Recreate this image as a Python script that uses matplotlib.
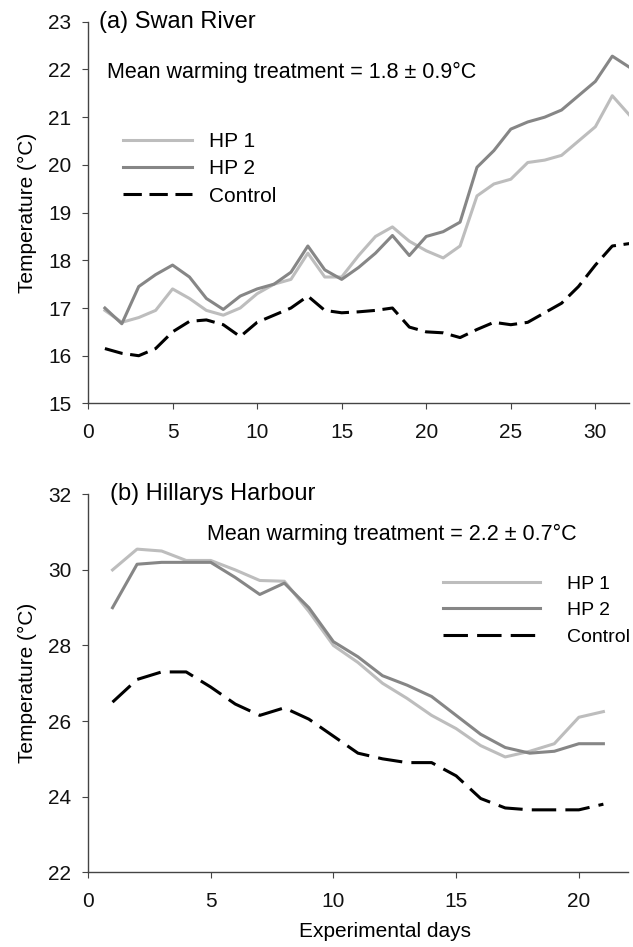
import matplotlib
matplotlib.use("Agg")
import matplotlib.pyplot as plt

plt.rcParams['font.family'] = ['Liberation Sans', 'DejaVu Sans']

# (a) Swan River, days 1-32
swan_days = list(range(1, 33))
swan_hp1 = [16.95, 16.7, 16.8, 16.95, 17.4, 17.2, 16.95, 16.85, 17.0, 17.3,
            17.5, 17.6, 18.15, 17.65, 17.65, 18.1, 18.5, 18.7, 18.4, 18.2,
            18.05, 18.3, 19.35, 19.6, 19.7, 20.05, 20.1, 20.2, 20.5, 20.8,
            21.45, 21.05]
swan_hp2 = [17.0, 16.67, 17.45, 17.7, 17.9, 17.65, 17.2, 16.97, 17.25, 17.4,
            17.5, 17.75, 18.3, 17.8, 17.6, 17.85, 18.15, 18.52, 18.1, 18.5,
            18.6, 18.8, 19.95, 20.3, 20.75, 20.9, 21.0, 21.15, 21.45, 21.75,
            22.28, 22.05]
swan_ctrl = [16.15, 16.05, 16.0, 16.15, 16.5, 16.72, 16.75, 16.65, 16.4, 16.7,
             16.85, 17.0, 17.25, 16.95, 16.9, 16.92, 16.95, 17.0, 16.6, 16.5,
             16.48, 16.38, 16.55, 16.7, 16.65, 16.7, 16.9, 17.1, 17.45, 17.9,
             18.3, 18.35]

# (b) Hillarys Harbour, days 1-21
hill_days = list(range(1, 22))
hill_hp1 = [30.0, 30.55, 30.5, 30.25, 30.25, 30.0, 29.72, 29.7, 28.9, 28.0,
            27.55, 27.0, 26.6, 26.15, 25.8, 25.35, 25.05, 25.2, 25.4, 26.1,
            26.25]
hill_hp2 = [29.0, 30.15, 30.2, 30.2, 30.2, 29.8, 29.35, 29.65, 29.0, 28.1,
            27.7, 27.2, 26.95, 26.65, 26.15, 25.65, 25.3, 25.15, 25.2, 25.4,
            25.4]
hill_ctrl = [26.5, 27.1, 27.3, 27.3, 26.9, 26.45, 26.15, 26.35, 26.05, 25.6,
             25.15, 25.0, 24.9, 24.9, 24.55, 23.95, 23.7, 23.65, 23.65, 23.65,
             23.8]

HP1_COL = '#bdbdbd'
HP2_COL = '#868686'
AX_COL = '#444444'
FS = 15
LW = 2.2

fig = plt.figure(figsize=(6.33, 9.47), dpi=100)
ax1 = fig.add_axes([0.139, 0.574, 0.855, 0.403])
ax2 = fig.add_axes([0.139, 0.079, 0.853, 0.399])


def style(ax):
    for s in ['top', 'right']:
        ax.spines[s].set_visible(False)
    for s in ['left', 'bottom']:
        ax.spines[s].set_color(AX_COL)
        ax.spines[s].set_linewidth(1.0)
    ax.tick_params(direction='out', length=4, color=AX_COL, labelsize=FS,
                   labelcolor='#111111')
    ax.tick_params(axis='x', pad=10)
    ax.tick_params(axis='y', pad=8)


# top panel
ax1.plot(swan_days, swan_hp1, color=HP1_COL, lw=LW, label='HP 1')
ax1.plot(swan_days, swan_hp2, color=HP2_COL, lw=LW, label='HP 2')
ax1.plot(swan_days, swan_ctrl, color='black', lw=LW, ls=(0, (6, 2.5)),
         label='Control')
ax1.set_xlim(0, 32)
ax1.set_ylim(15, 23)
ax1.set_xticks(range(0, 31, 5))
ax1.set_yticks(range(15, 24))
ax1.set_ylabel('Temperature (°C)', fontsize=FS, labelpad=8)
style(ax1)
ax1.text(0.02, 1.0, '(a) Swan River', transform=ax1.transAxes,
         fontsize=17, va='center', ha='left')
ax1.text(0.036, 0.868, 'Mean warming treatment = 1.8 ± 0.9°C',
         transform=ax1.transAxes, fontsize=15.5, va='center', ha='left')
ax1.legend(loc='upper left', bbox_to_anchor=(0.03, 0.76), frameon=False,
           fontsize=FS, handlelength=3.3, labelspacing=0.4, handletextpad=0.85)

# bottom panel
ax2.plot(hill_days, hill_hp1, color=HP1_COL, lw=LW, label='HP 1')
ax2.plot(hill_days, hill_hp2, color=HP2_COL, lw=LW, label='HP 2')
ax2.plot(hill_days, hill_ctrl, color='black', lw=LW, ls=(0, (8, 3)),
         label='Control')
ax2.set_xlim(0, 22)
ax2.set_ylim(22, 32)
ax2.set_xticks(range(0, 21, 5))
ax2.set_yticks(range(22, 33, 2))
ax2.set_ylabel('Temperature (°C)', fontsize=FS, labelpad=8)
ax2.set_xlabel('Experimental days', fontsize=FS, x=0.55, labelpad=8)
style(ax2)
ax2.text(0.04, 1.0, '(b) Hillarys Harbour', transform=ax2.transAxes,
         fontsize=17, va='center', ha='left')
ax2.text(0.22, 0.894, 'Mean warming treatment = 2.2 ± 0.7°C',
         transform=ax2.transAxes, fontsize=15.5, va='center', ha='left')
ax2.legend(loc='upper left', bbox_to_anchor=(0.632, 0.822), frameon=False,
           fontsize=14, handlelength=5.0, labelspacing=0.45, handletextpad=1.4,
           borderaxespad=0.3)

fig.savefig('out.png', dpi=100)
